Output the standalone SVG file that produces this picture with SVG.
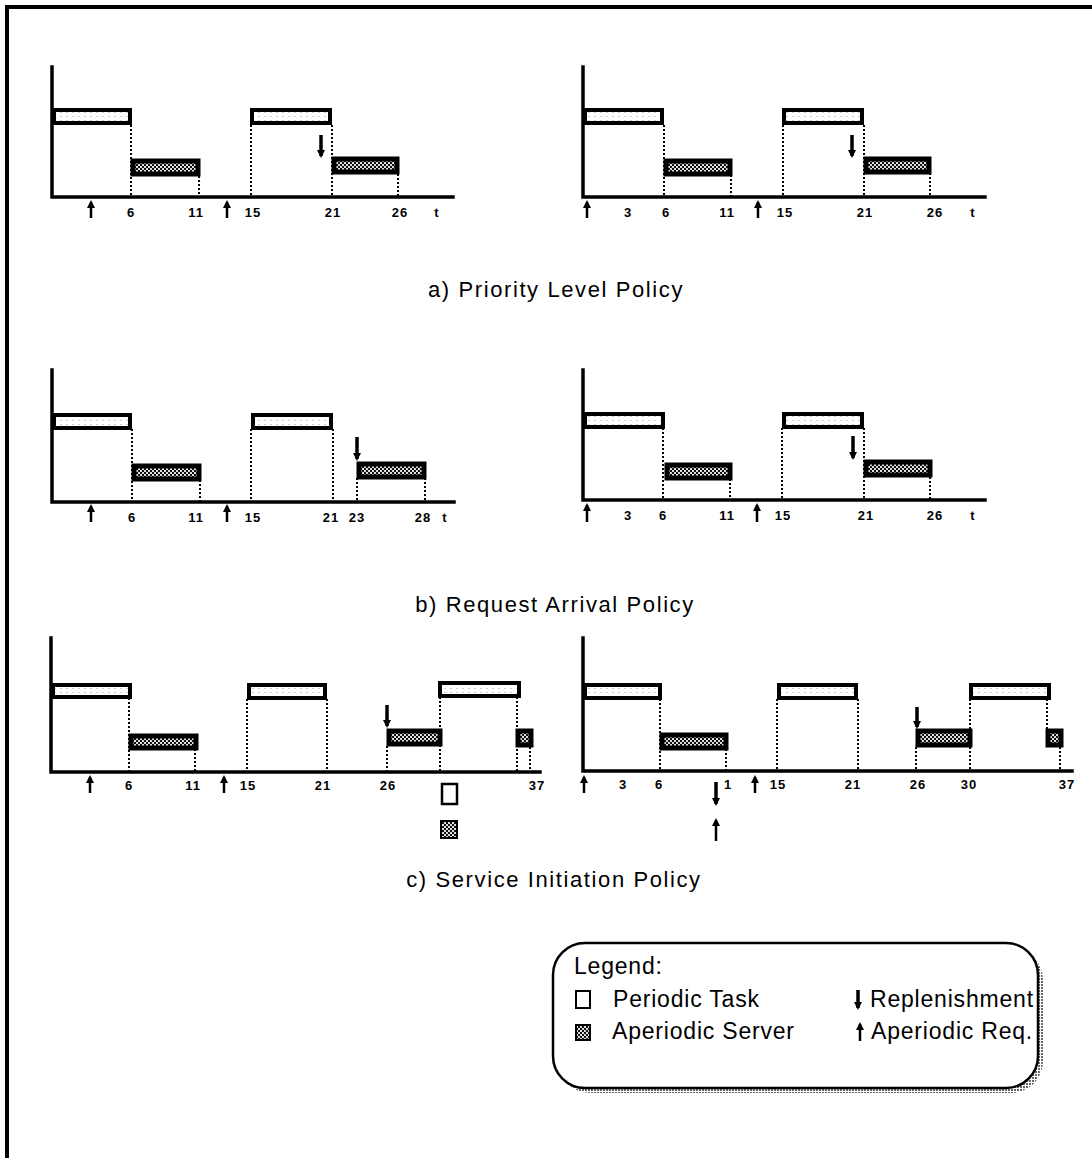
<svg xmlns="http://www.w3.org/2000/svg" width="1092" height="1158" viewBox="0 0 1092 1158">
<defs>
<pattern id="chk" width="4" height="4" patternUnits="userSpaceOnUse">
<rect width="4" height="4" fill="#ddd"/>
<rect width="2" height="2" fill="#111"/>
<rect x="2" y="2" width="2" height="2" fill="#111"/>
</pattern>
<pattern id="lt" width="6" height="4" patternUnits="userSpaceOnUse">
<rect width="6" height="4" fill="#fff"/>
<rect width="2" height="1" fill="#ccc"/>
</pattern>
<pattern id="shd" width="3" height="3" patternUnits="userSpaceOnUse">
<rect width="3" height="3" fill="#fff"/>
<rect width="2" height="2" fill="#666"/>
</pattern>
<marker id="ah" viewBox="0 0 8 8" markerWidth="8" markerHeight="8" refX="6" refY="4" orient="auto" markerUnits="userSpaceOnUse">
<path d="M0,0 L8,4 L0,8 z" fill="#000"/>
</marker>
<marker id="rh" viewBox="0 0 8 8" markerWidth="8" markerHeight="8" refX="6" refY="4" orient="auto" markerUnits="userSpaceOnUse">
<path d="M0,0 L8,4 L0,8 z" fill="#000"/>
</marker>
</defs>
<style>
.ax{stroke:#000;stroke-width:3.5;fill:none;stroke-linecap:square}
.per{fill:url(#lt);stroke:#000;stroke-width:4}
.apr{fill:url(#chk);stroke:#000;stroke-width:5}
.dot{stroke:#000;stroke-width:2;stroke-dasharray:2 2;fill:none}
.req{stroke:#000;stroke-width:2.5;fill:none;marker-end:url(#ah)}
.rep{stroke:#000;stroke-width:3.5;fill:none;marker-end:url(#rh)}
.tk{font-family:"Liberation Sans",Arial,sans-serif;font-size:13px;font-weight:bold;text-anchor:middle;letter-spacing:1px}
.ttl{font-family:"Liberation Sans",Arial,sans-serif;font-size:22px;text-anchor:middle;letter-spacing:1.6px}
.lg{font-family:"Liberation Sans",Arial,sans-serif;font-size:23px;letter-spacing:0.8px}
</style>
<rect width="1092" height="1158" fill="#fff"/>
<path d="M7,1158 V7 H1092" stroke="#000" stroke-width="4" fill="none"/>

<g id="chart-a-left">
<path class="ax" d="M52,67 V197 H453"/>
<g class="dot"><path d="M131,125V197M199,176V197M251,125V197M332,125V197M398,174V197"/></g>
<rect id="a1-p1" class="per" x="54" y="110" width="76" height="13"/>
<rect id="a1-a1" class="apr" x="133" y="161" width="65" height="13"/>
<rect id="a1-p2" class="per" x="252" y="110" width="78" height="13"/>
<rect id="a1-a2" class="apr" x="334" y="159" width="63" height="13"/>
<g class="tk"><text x="131" y="217">6</text><text x="196" y="217">11</text><text x="253" y="217">15</text><text x="333" y="217">21</text><text x="400" y="217">26</text><text x="437" y="217">t</text></g>
</g>
<g id="chart-a-right">
<path class="ax" d="M583,67 V197 H985"/>
<g class="dot"><path d="M664,125V197M731,175V197M783,125V197M864,125V197M930,173V197"/></g>
<rect id="a2-p1" class="per" x="585" y="110" width="77" height="13"/>
<rect id="a2-a1" class="apr" x="666" y="161" width="64" height="13"/>
<rect id="a2-p2" class="per" x="784" y="110" width="78" height="13"/>
<rect id="a2-a2" class="apr" x="866" y="159" width="63" height="13"/>
<g class="tk"><text x="628" y="217">3</text><text x="666" y="217">6</text><text x="727" y="217">11</text><text x="785" y="217">15</text><text x="865" y="217">21</text><text x="935" y="217">26</text><text x="973" y="217">t</text></g>
</g>
<text class="ttl" x="556" y="297">a) Priority Level Policy</text>

<g id="chart-b-left">
<path class="ax" d="M52,370 V502 H454"/>
<g class="dot"><path d="M132,429V502M200,480V502M251,429V502M333,429V502M357,478V502M425,478V502"/></g>
<rect id="b1-p1" class="per" x="54" y="415" width="76" height="13"/>
<rect id="b1-a1" class="apr" x="134" y="466" width="65" height="13"/>
<rect id="b1-p2" class="per" x="253" y="415" width="78" height="13"/>
<rect id="b1-a2" class="apr" x="359" y="464" width="65" height="13"/>
<g class="tk"><text x="132" y="522">6</text><text x="196" y="522">11</text><text x="253" y="522">15</text><text x="331" y="522">21</text><text x="357" y="522">23</text><text x="423" y="522">28</text><text x="445" y="522">t</text></g>
</g>
<g id="chart-b-right">
<path class="ax" d="M583,370 V500 H985"/>
<g class="dot"><path d="M663,428V500M730,479V500M782,428V500M864,428V500M930,477V500"/></g>
<rect id="b2-p1" class="per" x="585" y="414" width="78" height="13"/>
<rect id="b2-a1" class="apr" x="667" y="465" width="63" height="13"/>
<rect id="b2-p2" class="per" x="784" y="414" width="78" height="13"/>
<rect id="b2-a2" class="apr" x="866" y="462" width="64" height="13"/>
<g class="tk"><text x="628" y="520">3</text><text x="663" y="520">6</text><text x="727" y="520">11</text><text x="783" y="520">15</text><text x="866" y="520">21</text><text x="935" y="520">26</text><text x="973" y="520">t</text></g>
</g>
<text class="ttl" x="555" y="612">b) Request Arrival Policy</text>

<g id="chart-c-left">
<path class="ax" d="M51,638 V772 H540"/>
<g class="dot"><path d="M129,698V772M195,749V772M247,699V772M327,699V772M387,746V772M440,697V772M517,697V772M530,747V772"/></g>
<rect id="c1-p1" class="per" x="53" y="685" width="77" height="12"/>
<rect id="c1-a1" class="apr" x="131" y="736" width="65" height="12"/>
<rect id="c1-p2" class="per" x="249" y="685" width="76" height="13"/>
<rect id="c1-a2" class="apr" x="389" y="731" width="51" height="13"/>
<rect id="c1-p3" class="per" x="440" y="683" width="79" height="13"/>
<rect id="c1-a3" class="apr" x="518" y="731" width="13" height="14"/>
<g class="tk"><text x="129" y="790">6</text><text x="193" y="790">11</text><text x="248" y="790">15</text><text x="323" y="790">21</text><text x="388" y="790">26</text><text x="537" y="790">37</text></g>
<rect id="c1-sq1" x="442" y="784" width="15" height="20" fill="#fff" stroke="#000" stroke-width="2.5"/>
<rect id="c1-sq2" x="441" y="821" width="16" height="17" fill="url(#chk)" stroke="#000" stroke-width="2"/>
</g>
<g id="chart-c-right">
<path class="ax" d="M583,638 V771 H1072"/>
<g class="dot"><path d="M660,699V771M726,749V771M777,699V771M858,699V771M916,747V771M970,699V771M1047,699V729M1060,747V771"/></g>
<rect id="c2-p1" class="per" x="585" y="685" width="75" height="13"/>
<rect id="c2-a1" class="apr" x="662" y="735" width="64" height="13"/>
<rect id="c2-p2" class="per" x="779" y="685" width="77" height="13"/>
<rect id="c2-a2" class="apr" x="918" y="731" width="52" height="14"/>
<rect id="c2-p3" class="per" x="971" y="685" width="78" height="13"/>
<rect id="c2-a3" class="apr" x="1048" y="731" width="13" height="14"/>
<g class="tk"><text x="623" y="789">3</text><text x="659" y="789">6</text><text x="728" y="789">1</text><text x="778" y="789">15</text><text x="853" y="789">21</text><text x="918" y="789">26</text><text x="969" y="789">30</text><text x="1067" y="789">37</text></g>
</g>
<text class="ttl" x="554" y="887">c) Service Initiation Policy</text>

<g id="connectors">
<line class="rep" x1="321" y1="135" x2="321" y2="156"/>
<line class="rep" x1="852" y1="135" x2="852" y2="156"/>
<line class="rep" x1="357" y1="437" x2="357" y2="459"/>
<line class="rep" x1="853" y1="436" x2="853" y2="458"/>
<line class="rep" x1="387" y1="705" x2="387" y2="726"/>
<line class="rep" x1="917" y1="707" x2="917" y2="727"/>
<line class="rep" x1="716" y1="782" x2="716" y2="804"/>
<line class="req" x1="91" y1="218" x2="91" y2="202"/>
<line class="req" x1="227" y1="218" x2="227" y2="202"/>
<line class="req" x1="587" y1="218" x2="587" y2="202"/>
<line class="req" x1="758" y1="218" x2="758" y2="202"/>
<line class="req" x1="91" y1="522" x2="91" y2="506"/>
<line class="req" x1="227" y1="522" x2="227" y2="506"/>
<line class="req" x1="587" y1="522" x2="587" y2="505"/>
<line class="req" x1="757" y1="522" x2="757" y2="505"/>
<line class="req" x1="90" y1="793" x2="90" y2="777"/>
<line class="req" x1="224" y1="793" x2="224" y2="777"/>
<line class="req" x1="584" y1="793" x2="584" y2="777"/>
<line class="req" x1="755" y1="793" x2="755" y2="777"/>
<line class="req" x1="716" y1="841" x2="716" y2="820"/>
</g>

<g id="legend">
<rect x="558" y="948" width="485" height="145" rx="32" fill="url(#shd)"/>
<rect x="553" y="943" width="485" height="145" rx="32" fill="#fff" stroke="#000" stroke-width="2.5"/>
<text class="lg" x="574" y="974">Legend:</text>
<rect x="576" y="991" width="14" height="17" fill="#fff" stroke="#000" stroke-width="2"/>
<text class="lg" x="613" y="1007">Periodic Task</text>
<rect x="576" y="1025" width="14" height="15" fill="url(#chk)" stroke="#000" stroke-width="2"/>
<text class="lg" x="612" y="1039">Aperiodic Server</text>
<line class="rep" x1="858" y1="990" x2="858" y2="1008"/>
<text class="lg" x="870" y="1007">Replenishment</text>
<line class="req" x1="860" y1="1041" x2="860" y2="1024"/>
<text class="lg" x="871" y="1039">Aperiodic Req.</text>
</g>
</svg>
